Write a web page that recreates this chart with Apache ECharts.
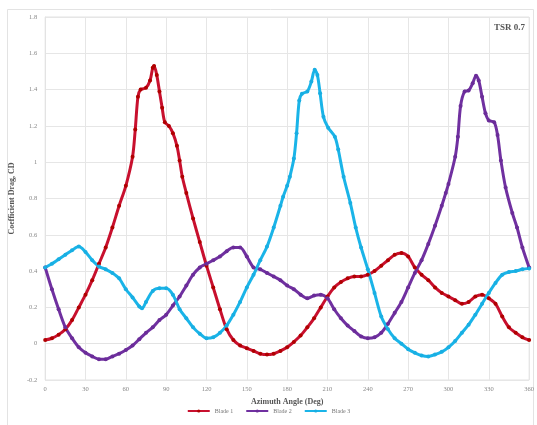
<!DOCTYPE html>
<html><head><meta charset="utf-8">
<script src="https://cdn.jsdelivr.net/npm/echarts@6/dist/echarts.min.js"></script>
<style>html,body{margin:0;padding:0;background:#fff}#c{width:537px;height:425px}</style>
</head><body><div id="c"></div>
<script>
const blade1X = [0,5,10,15,20,25,30,35,40,45,50,55,60,65,67,69,71,75,78,80,81,83,85,87,89,92,95,98,100,102,105,110,115,120,125,130,135,140,145,150,155,160,165,170,175,180,185,190,195,200,205,210,215,220,225,230,235,240,245,250,255,260,265,270,275,280,285,290,295,300,305,310,315,320,325,330,335,340,345,350,355,360];
const blade1Y = [0.02,0.03,0.05,0.08,0.13,0.20,0.27,0.35,0.44,0.53,0.64,0.76,0.87,1.03,1.18,1.36,1.40,1.41,1.45,1.52,1.53,1.48,1.39,1.30,1.22,1.20,1.16,1.09,1.01,0.92,0.83,0.69,0.56,0.43,0.31,0.19,0.08,0.02,-0.01,-0.025,-0.04,-0.055,-0.06,-0.055,-0.04,-0.02,0.01,0.045,0.09,0.14,0.20,0.26,0.31,0.34,0.36,0.37,0.37,0.38,0.40,0.43,0.46,0.49,0.50,0.48,0.42,0.38,0.35,0.31,0.28,0.26,0.24,0.22,0.23,0.26,0.27,0.25,0.22,0.15,0.09,0.06,0.035,0.02];
const blade2X = [0,5,10,15,20,25,30,35,40,45,50,55,60,65,70,75,80,85,90,95,100,105,110,115,120,125,130,135,140,145,150,155,160,165,170,175,180,185,190,195,200,205,210,215,220,225,230,235,240,245,250,255,260,265,270,275,280,285,290,295,298,300,305,307,309,312,315,318,320.5,322.5,325,327.5,330,334,336.5,339,342.5,347.5,351,355,360];
const blade2Y = [0.42,0.30,0.19,0.09,0.03,-0.02,-0.05,-0.07,-0.085,-0.085,-0.07,-0.055,-0.035,-0.01,0.025,0.06,0.09,0.13,0.16,0.21,0.26,0.32,0.38,0.42,0.44,0.46,0.48,0.51,0.53,0.53,0.48,0.42,0.41,0.39,0.37,0.35,0.32,0.30,0.27,0.25,0.265,0.27,0.25,0.19,0.14,0.10,0.07,0.04,0.03,0.035,0.06,0.11,0.17,0.23,0.31,0.39,0.46,0.55,0.65,0.76,0.83,0.88,1.03,1.14,1.31,1.39,1.395,1.435,1.476,1.45,1.36,1.27,1.23,1.22,1.15,1.01,0.86,0.72,0.64,0.53,0.42];
const blade3X = [0,5,10,15,20,25,30,35,40,45,50,55,60,65,70,72,75,80,85,90,95,100,105,110,115,120,125,130,135,140,145,150,155,160,165,170,175,177,180,182,185,187,189,191,195,198,200.5,202.5,204.5,207,210.5,215.5,218,222,227,231,235,240,245,250,255,260,265,270,275,280,285,290,295,300,305,310,315,320,325,330,335,340,345,350,355,360];
const blade3Y = [0.42,0.44,0.465,0.49,0.515,0.535,0.505,0.46,0.425,0.41,0.39,0.36,0.30,0.255,0.205,0.195,0.23,0.29,0.305,0.305,0.27,0.19,0.14,0.09,0.055,0.03,0.035,0.06,0.10,0.16,0.23,0.31,0.38,0.46,0.535,0.64,0.76,0.81,0.87,0.92,1.02,1.16,1.34,1.377,1.39,1.444,1.51,1.48,1.38,1.25,1.19,1.14,1.07,0.92,0.775,0.64,0.53,0.41,0.28,0.15,0.08,0.03,0.0,-0.03,-0.05,-0.065,-0.07,-0.06,-0.045,-0.02,0.015,0.06,0.105,0.16,0.22,0.28,0.335,0.38,0.395,0.40,0.41,0.415];
const seriesNames = ['Blade 1','Blade 2','Blade 3'];
const xTicks = [0,30,60,90,120,150,180,210,240,270,300,330,360];

const pair = (xs, ys) => xs.map((x, i) => [x, ys[i]]);
const font = 'Liberation Serif';
const chart = echarts.init(document.getElementById('c'), null, {renderer: 'canvas'});
function mk(name, xs, ys, lineColor, markColor) {
  return {
    name, type: 'line', data: pair(xs, ys), smooth: 0.3,
    symbol: 'circle', symbolSize: 4, showSymbol: true,
    lineStyle: {color: lineColor, width: 3},
    itemStyle: {color: markColor},
    emphasis: {disabled: true}
  };
}
chart.setOption({
  animation: false,
  backgroundColor: '#fff',
  graphic: [
    {type: 'rect', shape: {x: 7.5, y: 9.5, width: 526, height: 430}, style: {fill: 'none', stroke: '#e3e3e3', lineWidth: 1}, silent: true},
    {type: 'text', right: 12, top: 23, style: {text: 'TSR 0.7', font: 'bold 9px "Liberation Serif"', fill: '#555'}}
  ],
  grid: {left: 44, right: 7, top: 17, bottom: 45, show: true, borderColor: '#e3e3e3', borderWidth: 1},
  legend: {
    data: seriesNames, bottom: 6, left: 'center', itemWidth: 22, itemHeight: 4, itemGap: 12,
    textStyle: {fontFamily: font, fontSize: 6, color: '#777'}
  },
  xAxis: {
    type: 'value', min: 0, max: 360, interval: 30,
    name: 'Azimuth Angle (Deg)', nameLocation: 'middle', nameGap: 13,
    nameTextStyle: {fontFamily: font, fontSize: 8, fontWeight: 'bold', color: '#555'},
    axisLine: {show: true, lineStyle: {color: '#e3e3e3'}},
    axisTick: {show: false},
    axisLabel: {fontFamily: font, fontSize: 6.5, color: '#888', margin: 6,
      formatter: v => xTicks.includes(v) ? String(v) : ''},
    splitLine: {show: true, lineStyle: {color: '#e6e6e6'}}
  },
  yAxis: {
    type: 'value', min: -0.2, max: 1.8, interval: 0.2,
    name: 'Coefficient Drag, CD', nameLocation: 'middle', nameGap: 24, nameRotate: 90,
    nameTextStyle: {fontFamily: font, fontSize: 8, fontWeight: 'bold', color: '#555'},
    axisLine: {show: true, lineStyle: {color: '#e3e3e3'}},
    axisTick: {show: false},
    axisLabel: {fontFamily: font, fontSize: 6.5, color: '#888', margin: 8,
      formatter: v => String(Math.round(v * 10) / 10)},
    splitLine: {show: true, lineStyle: {color: '#e6e6e6'}}
  },
  series: [
    mk(seriesNames[0], blade1X, blade1Y, '#C8102E', '#B00000'),
    mk(seriesNames[1], blade2X, blade2Y, '#7030A0', '#6A2C98'),
    mk(seriesNames[2], blade3X, blade3Y, '#1AB4E8', '#18AEE2')
  ]
});
</script></body></html>
